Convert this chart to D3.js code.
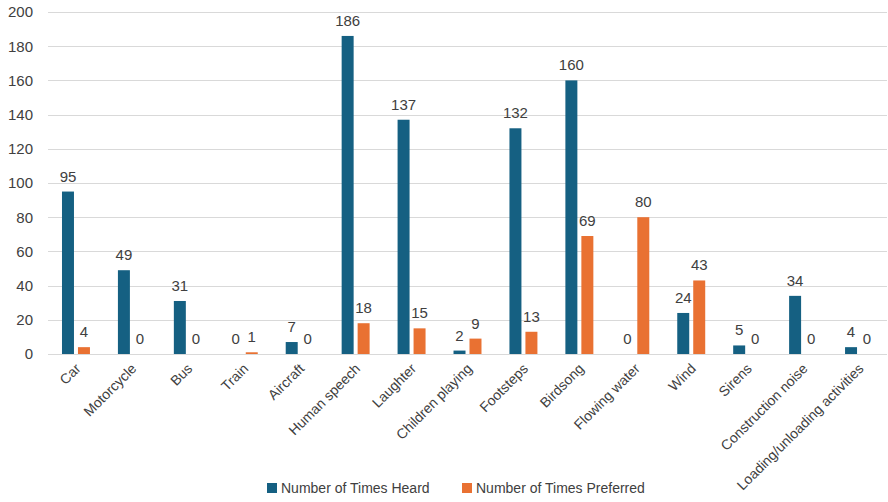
<!DOCTYPE html>
<html>
<head>
<meta charset="utf-8">
<script src="https://cdn.jsdelivr.net/npm/d3@7"></script>
<style>
  html, body { margin: 0; padding: 0; background: #fff; }
  svg { display: block; font-family: "Liberation Sans", Arial, sans-serif; }
</style>
</head>
<body>
<svg id="chart" width="888" height="502"></svg>
<script>
// Sound sources and how often each was heard / preferred
const categories = ["Car", "Motorcycle", "Bus", "Train", "Aircraft", "Human speech", "Laughter",
  "Children playing", "Footsteps", "Birdsong", "Flowing water", "Wind", "Sirens",
  "Construction noise", "Loading/unloading activities"];
const timesHeard = [95, 49, 31, 0, 7, 186, 137, 2, 132, 160, 0, 24, 5, 34, 4];
const timesPreferred = [4, 0, 0, 1, 0, 18, 15, 9, 13, 69, 80, 43, 0, 0, 0];
const seriesNames = ["Number of Times Heard", "Number of Times Preferred"];
const yTicks = [0, 20, 40, 60, 80, 100, 120, 140, 160, 180, 200];

const colors = ["#156082", "#E97132"];
const textColor = "#404040";
const svg = d3.select("#chart");
const margin = { left: 48, right: 1, top: 12, bottom: 148 };
const W = 888, H = 502;
const plotBottom = H - margin.bottom;

const x0 = d3.scaleBand().domain(categories)
  .range([margin.left, W - margin.right])
  .paddingInner(0.5).paddingOuter(0.25);
const x1 = d3.scaleBand().domain(seriesNames)
  .range([0, x0.bandwidth()]).paddingInner(0.25).paddingOuter(0);
const y = d3.scaleLinear().domain([0, 200]).range([plotBottom, margin.top]);

// gridlines
svg.append("g").selectAll("line").data(yTicks).join("line")
  .attr("x1", margin.left).attr("x2", W - margin.right)
  .attr("y1", d => Math.round(y(d)) + 0.5).attr("y2", d => Math.round(y(d)) + 0.5)
  .attr("stroke", "#d9d9d9").attr("stroke-width", 1);

// y axis labels
const yAxis = d3.axisLeft(y).tickValues(yTicks).tickSize(0).tickPadding(15);
const gy = svg.append("g").attr("transform", `translate(${margin.left},0)`).call(yAxis);
gy.select(".domain").remove();
gy.selectAll("text").attr("font-size", 15).attr("fill", textColor)
  .attr("font-family", "Liberation Sans, Arial, sans-serif");

// bars
const rows = categories.map((c, i) => ({ cat: c, vals: [timesHeard[i], timesPreferred[i]] }));
const groups = svg.append("g").selectAll("g").data(rows).join("g")
  .attr("transform", d => `translate(${x0(d.cat)},0)`);

groups.selectAll("rect").data(d => d.vals.map((v, k) => ({ v, k }))).join("rect")
  .attr("x", d => x1(seriesNames[d.k]))
  .attr("width", x1.bandwidth())
  .attr("y", d => y(d.v))
  .attr("height", d => plotBottom - y(d.v))
  .attr("fill", d => colors[d.k]);

// value labels
groups.selectAll("text").data(d => d.vals.map((v, k) => ({ v, k }))).join("text")
  .attr("x", d => x1(seriesNames[d.k]) + x1.bandwidth() / 2)
  .attr("y", d => y(d.v) - 10)
  .attr("text-anchor", "middle")
  .attr("font-size", 15).attr("fill", textColor)
  .text(d => d.v);

// baseline
svg.append("line")
  .attr("x1", margin.left).attr("x2", W - margin.right)
  .attr("y1", plotBottom + 0.5).attr("y2", plotBottom + 0.5)
  .attr("stroke", "#d9d9d9");

// category labels
const xAxis = d3.axisBottom(x0).tickSize(0).tickPadding(0);
const gx = svg.append("g").attr("transform", `translate(0,${plotBottom})`).call(xAxis);
gx.select(".domain").remove();
gx.selectAll("text")
  .attr("font-size", 14).attr("fill", textColor)
  .attr("font-family", "Liberation Sans, Arial, sans-serif")
  .attr("text-anchor", "end")
  .attr("dy", "0.35em")
  .attr("transform", "translate(2,12) rotate(-45)");

// legend
const legend = svg.append("g").attr("transform", "translate(0,488)");
const legendX = [267, 462];
seriesNames.forEach((name, k) => {
  legend.append("rect").attr("x", legendX[k]).attr("y", -5).attr("width", 10).attr("height", 10)
    .attr("fill", colors[k]);
  legend.append("text").attr("x", legendX[k] + 14).attr("y", 0).attr("dy", "0.35em")
    .attr("font-size", 14).attr("fill", textColor).text(name);
});
</script>
</body>
</html>
